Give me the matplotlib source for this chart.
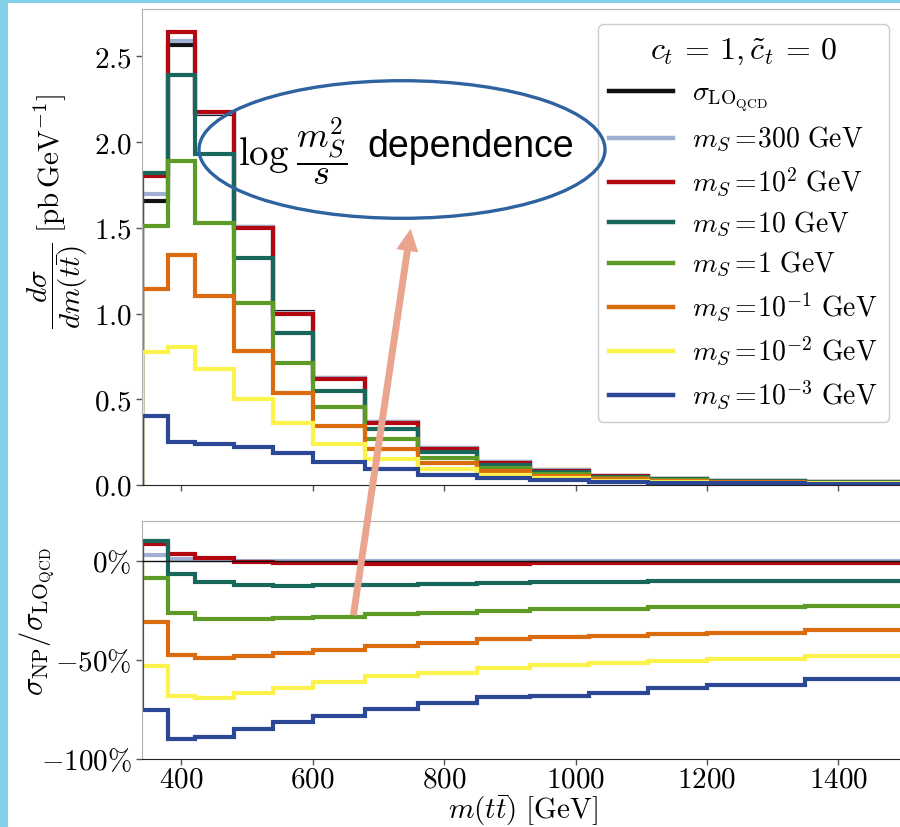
import matplotlib
matplotlib.use("Agg")
import matplotlib.pyplot as plt
from matplotlib.patches import Ellipse, Rectangle, FancyArrowPatch
from matplotlib.ticker import FixedLocator, FuncFormatter

plt.rcParams["mathtext.fontset"] = "cm"
plt.rcParams["font.family"] = ["DejaVu Sans"]

# bin edges in m(tt) [GeV]
edges = [340, 380, 420, 480, 540, 600, 680, 760, 850, 930, 1020, 1110, 1200, 1350, 1500]

# d sigma / d m(tt) [pb/GeV]
lo_qcd = [1.657, 2.567, 2.163, 1.508, 1.008, 0.626, 0.368, 0.215, 0.132, 0.085, 0.053, 0.037, 0.025, 0.0175]
ms_300 = [1.700, 2.592, 2.172, 1.505, 1.005, 0.624, 0.367, 0.214, 0.132, 0.085, 0.053, 0.037, 0.025, 0.0175]
ms_1e2 = [1.800, 2.645, 2.178, 1.501, 0.998, 0.618, 0.363, 0.212, 0.130, 0.084, 0.052, 0.0365, 0.0247, 0.0173]
ms_1e1 = [1.820, 2.392, 1.933, 1.326, 0.885, 0.550, 0.325, 0.190, 0.117, 0.076, 0.047, 0.033, 0.022, 0.0157]
ms_1e0 = [1.510, 1.890, 1.527, 1.060, 0.714, 0.453, 0.267, 0.159, 0.099, 0.064, 0.040, 0.028, 0.019, 0.0135]
ms_1em1 = [1.145, 1.342, 1.103, 0.782, 0.535, 0.344, 0.208, 0.126, 0.080, 0.052, 0.033, 0.023, 0.016, 0.0113]
ms_1em2 = [0.778, 0.803, 0.675, 0.502, 0.360, 0.239, 0.150, 0.094, 0.061, 0.040, 0.026, 0.018, 0.0125, 0.009]
ms_1em3 = [0.404, 0.253, 0.239, 0.224, 0.185, 0.136, 0.092, 0.061, 0.041, 0.027, 0.018, 0.013, 0.0093, 0.007]

# sigma_NP / sigma_LO - 1
r_300 = [0.027, 0.010, 0.003, -0.002, -0.003, -0.003, -0.003, -0.003, -0.003, -0.003, -0.003, -0.003, -0.003, -0.003]
r_1e2 = [0.086, 0.034, 0.012, -0.005, -0.010, -0.013, -0.015, -0.015, -0.015, -0.013, -0.013, -0.013, -0.013, -0.013]
r_1e1 = [0.099, -0.066, -0.106, -0.122, -0.126, -0.124, -0.121, -0.117, -0.112, -0.109, -0.106, -0.102, -0.102, -0.101]
r_1e0 = [-0.087, -0.262, -0.292, -0.295, -0.290, -0.282, -0.270, -0.262, -0.252, -0.245, -0.242, -0.235, -0.235, -0.228]
r_1em1 = [-0.308, -0.476, -0.493, -0.480, -0.466, -0.448, -0.428, -0.413, -0.396, -0.386, -0.379, -0.369, -0.366, -0.352]
r_1em2 = [-0.530, -0.684, -0.690, -0.668, -0.643, -0.614, -0.584, -0.564, -0.540, -0.527, -0.517, -0.505, -0.496, -0.483]
r_1em3 = [-0.755, -0.900, -0.891, -0.851, -0.814, -0.782, -0.748, -0.718, -0.688, -0.680, -0.665, -0.640, -0.626, -0.597]

labels = [r"$\sigma_{\mathrm{LO}_{\mathrm{QCD}}}$",
          r"$m_S =\!300\ \mathrm{GeV}$",
          r"$m_S =\!10^2\ \mathrm{GeV}$",
          r"$m_S =\!10\ \mathrm{GeV}$",
          r"$m_S =\!1\ \mathrm{GeV}$",
          r"$m_S =\!10^{-1}\ \mathrm{GeV}$",
          r"$m_S =\!10^{-2}\ \mathrm{GeV}$",
          r"$m_S =\!10^{-3}\ \mathrm{GeV}$"]
colors = ["#111111", "#9fb0d2", "#b30610", "#19665a", "#5d9b26", "#db6b0f", "#fcf24c", "#2c4795"]
tops = [lo_qcd, ms_300, ms_1e2, ms_1e1, ms_1e0, ms_1em1, ms_1em2, ms_1em3]
ratios = [None, r_300, r_1e2, r_1e1, r_1e0, r_1em1, r_1em2, r_1em3]

W, H = 900, 827
fig = plt.figure(figsize=(W / 100, H / 100), dpi=100, facecolor="#82d0ea")
fig.add_artist(Rectangle((8 / W, 0), 1, 1 - 3 / H, transform=fig.transFigure,
                         facecolor="white", edgecolor="none", zorder=-10))


def px_box(l, t, r, b):
    return [l / W, 1 - b / H, (r - l) / W, (b - t) / H]


ax1 = fig.add_axes(px_box(142, 9, 904, 485))
ax2 = fig.add_axes(px_box(142, 521, 904, 759))

lw = 3
for lab, col, vals in zip(labels, colors, tops):
    ax1.stairs(vals, edges, baseline=0, color=col, lw=lw, label=lab)

for col, vals in zip(colors[1:], ratios[1:]):
    ax2.stairs(vals, edges, baseline=0, color=col, lw=lw)
ax2.axhline(0, color="#111111", lw=1.0, zorder=5)

for ax in (ax1, ax2):
    ax.set_xlim(340, 1500)
    ax.xaxis.set_major_locator(FixedLocator([400, 600, 800, 1000, 1200, 1400]))
    ax.tick_params(direction="out", length=4, width=1, color="#555555", labelsize=21)
    for side in ("left", "top", "right"):
        ax.spines[side].set_color("#b0b0b0")
    ax.spines["bottom"].set_color("#222222")

ax1.set_ylim(0, 2.777)
ax1.yaxis.set_major_locator(FixedLocator([0, 0.5, 1.0, 1.5, 2.0, 2.5]))
ax1.yaxis.set_major_formatter(FuncFormatter(lambda v, p: f"${v:.1f}$"))
ax1.tick_params(axis="x", labelbottom=False)

ax2.set_ylim(-1.0, 0.2)
ax2.yaxis.set_major_locator(FixedLocator([-1.0, -0.5, 0.0]))
ax2.yaxis.set_major_formatter(FuncFormatter(lambda v, p: r"$%d\%%$" % round(v * 100)))
ax2.xaxis.set_major_formatter(FuncFormatter(lambda v, p: f"${v:.0f}$"))
ax2.tick_params(axis="x", pad=1)

ax1.set_ylabel(r"$\dfrac{d\sigma}{dm(t\bar{t})}\ [\mathrm{pb\,GeV^{-1}}]$", fontsize=21)
ax1.yaxis.set_label_coords(-0.068, 0.575)
ax2.set_ylabel(r"$\sigma_{\mathrm{NP}}/\sigma_{\mathrm{LO}_{\mathrm{QCD}}}$", fontsize=22)
ax2.yaxis.set_label_coords(-0.112, 0.575)
ax2.set_xlabel(r"$m(t\bar{t})\ [\mathrm{GeV}]$", fontsize=21)
ax2.xaxis.set_label_coords(0.5, -0.146)

leg = ax1.legend(loc="upper right", bbox_to_anchor=(889 / W, 1 - 24 / H),
                 bbox_transform=fig.transFigure, borderaxespad=0,
                 fontsize=20, title=r"$c_t\,=\,1, \tilde{c}_t\,=\,0$", title_fontsize=23,
                 handlelength=2.3, handletextpad=0.7, labelspacing=0.41,
                 frameon=True, fancybox=True, edgecolor="#cccccc", framealpha=1)
for h in leg.get_lines():
    h.set_linewidth(3.2)
leg.set_zorder(6)

# annotation: ellipse, text and arrow spanning both panels
ell = Ellipse((402 / W, 1 - 149.5 / H), 406 / W, 137.6 / H, transform=fig.transFigure,
              fill=False, edgecolor="#2e63a0", lw=2.4, zorder=20)
fig.add_artist(ell)
fig.text(238 / W, 1 - 165 / H, r"$\log$", ha="left", va="baseline", fontsize=28, zorder=21)
fig.text(322 / W, 1 - 151 / H, r"$\dfrac{m_S^2}{s}$", ha="center", va="center",
         fontsize=26, zorder=21)
fig.text(367 / W, 1 - 157 / H, "dependence", ha="left", va="baseline",
         fontsize=27, family="Liberation Sans", zorder=21)

arrow = FancyArrowPatch((353 / W, 1 - 618 / H), (411 / W, 1 - 226 / H),
                        transform=fig.transFigure, mutation_scale=1,
                        arrowstyle="simple,head_length=16,head_width=16,tail_width=5",
                        color="#e9a58e", lw=0, zorder=22)
fig.add_artist(arrow)

fig.savefig("out.png", dpi=100, facecolor=fig.get_facecolor())
